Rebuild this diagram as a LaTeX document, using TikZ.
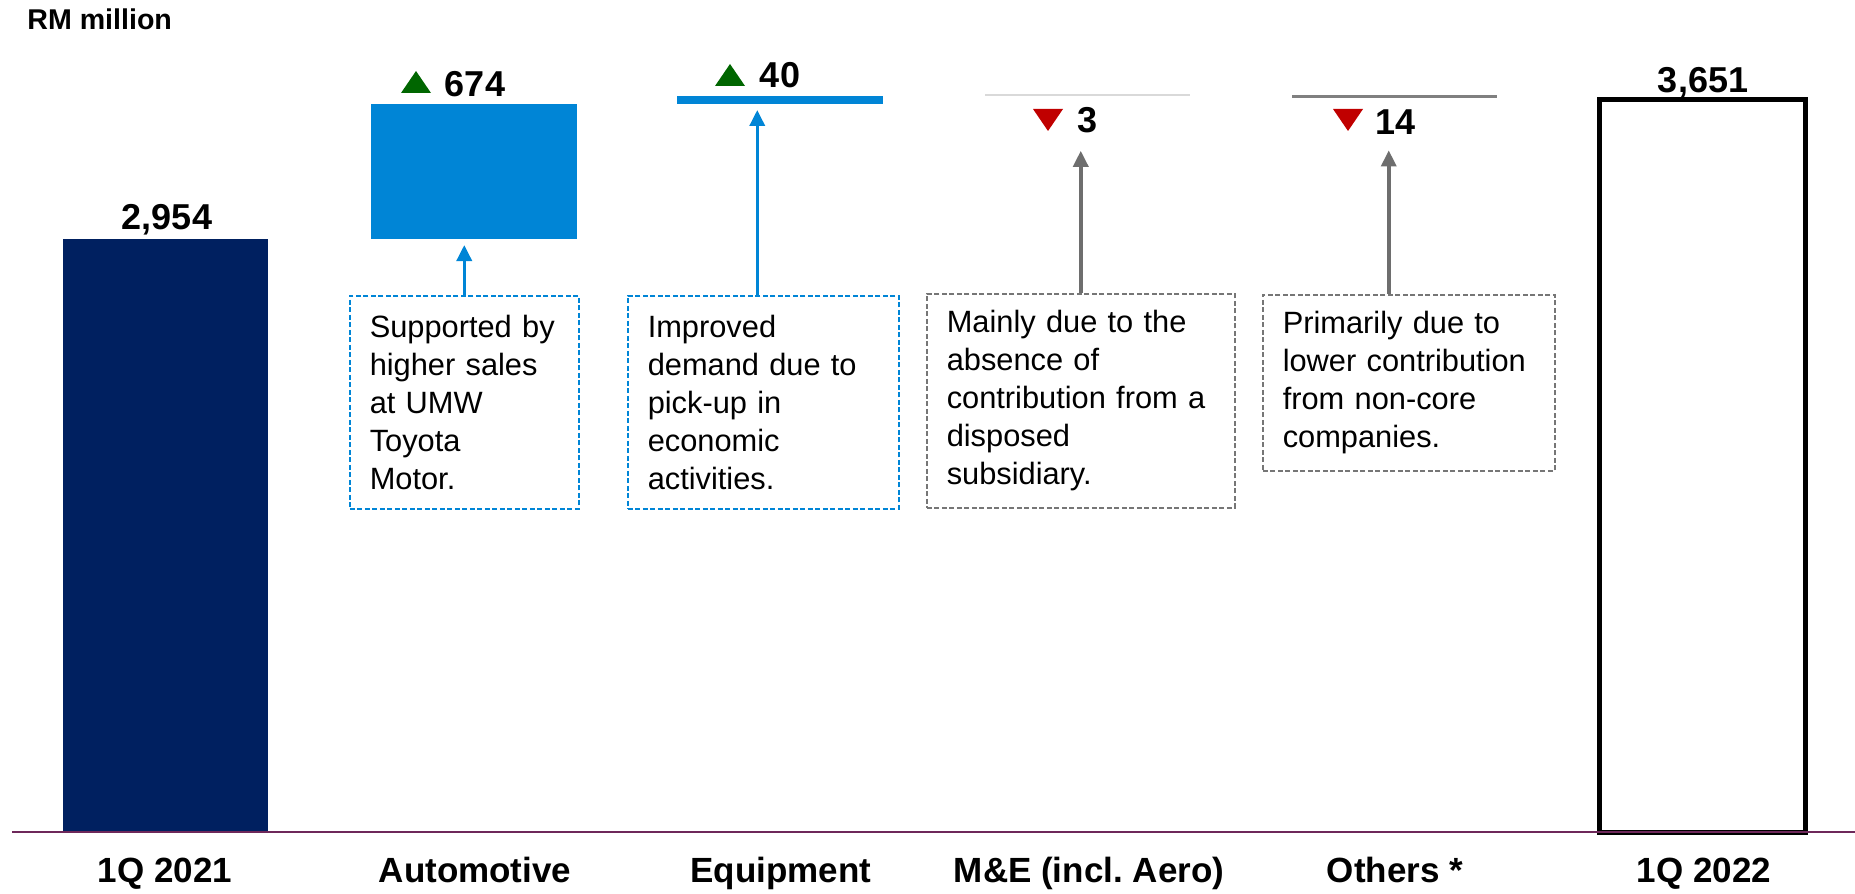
\documentclass[tikz,border=0pt]{standalone}
\usepackage{fontspec}
\setmainfont{Liberation Sans}
\usetikzlibrary{shapes.geometric, arrows.meta, positioning}
\definecolor{navy}{RGB}{0,32,96}
\definecolor{autoblue}{RGB}{0,133,214}
\definecolor{upgreen}{RGB}{0,102,0}
\definecolor{downred}{RGB}{192,0,0}
\definecolor{notegrey}{RGB}{118,118,118}
\definecolor{linkgrey}{RGB}{110,110,110}
\definecolor{megrey}{RGB}{217,217,217}
\definecolor{othgrey}{RGB}{128,128,128}
\definecolor{axisline}{RGB}{110,40,90}
\tikzstyle{bar} = [rectangle, inner sep=0pt, outer sep=0pt]
\tikzstyle{total} = [rectangle, draw=black, line width=2.5pt, fill=white, inner sep=0pt]
\tikzstyle{value} = [inner sep=0pt, anchor=base, font=\fontsize{18}{21}\selectfont\bfseries]
\tikzstyle{category} = [inner sep=0pt, anchor=base, font=\fontsize{17.5}{21}\selectfont\bfseries]
\tikzstyle{note} = [rectangle, anchor=north west, align=left, inner xsep=10pt, inner ysep=0pt, line width=0.75pt, dash pattern=on 2.5pt off 1.25pt, font=\fontsize{15.4}{19}\selectfont]
\tikzstyle{up_note} = [note, draw=autoblue]
\tikzstyle{down_note} = [note, draw=notegrey]
\tikzstyle{up_link} = [line width=1.75pt, autoblue, -{Triangle[length=8pt, width=7.5pt]}]
\tikzstyle{down_link} = [line width=1.75pt, linkgrey, -{Triangle[length=8pt, width=7.5pt]}]

\begin{document}
\begin{tikzpicture}[x=0.5pt, y=-0.5pt]

    % Page border
    \useasboundingbox (0,0) rectangle (1855,893);

    \node (unit_label) [anchor=base west, inner sep=0pt, font=\fontsize{14.3}{17}\selectfont\bfseries] at (27,30) {RM million};

    \node (base_bar) [bar, fill=navy, minimum width=102.5pt, minimum height=296.5pt] at (165.5,535.5) {};
    \node (auto_bar) [bar, fill=autoblue, minimum width=103pt, minimum height=67.5pt] at (474,171.5) {};
    \node (equip_bar) [bar, fill=autoblue, minimum width=103pt, minimum height=4pt] at (780,100) {};
    \node (me_bar) [bar, fill=megrey, minimum width=102.5pt, minimum height=0.75pt] at (1087.5,95) {};
    \node (other_bar) [bar, fill=othgrey, minimum width=102.5pt, minimum height=1.5pt] at (1394.5,97) {};
    \node (final_bar) [total, minimum width=103pt, minimum height=366.75pt] at (1702.5,466) {};

    \draw [axisline, line width=0.75pt] (12,832) -- (1855,832);

    \node (base_value) [value] at (167,229) {2,954};
    \node (auto_value) [value] at (475,97) {674};
    \node (equip_value) [value] at (780,88) {40};
    \node (me_value) [value] at (1087,133) {3};
    \node (other_value) [value] at (1395,135) {14};
    \node (final_value) [value] at (1703,93) {3,651};

    % Up and down markers
    \fill [upgreen] (416,82) ++(-15,11) -- ++(30,0) -- ++(-15,-22) -- cycle;
    \fill [upgreen] (730,75) ++(-15,11) -- ++(30,0) -- ++(-15,-22) -- cycle;
    \fill [downred] (1048,120) ++(-15,-11) -- ++(30,0) -- ++(-15,22) -- cycle;
    \fill [downred] (1348,120) ++(-15,-11) -- ++(30,0) -- ++(-15,22) -- cycle;

    \node (auto_note) [up_note, text width=94.5pt, minimum height=106.5pt] at (349,295) {Supported by\\higher sales\\at UMW\\Toyota\\Motor.};
    \node (equip_note) [up_note, text width=115.5pt, minimum height=106.5pt] at (627,295) {Improved\\demand due to\\pick-up in\\economic\\activities.};
    \node (me_note) [down_note, text width=134pt, minimum height=107pt] at (926,293) {Mainly due to the\\absence of\\contribution from a\\disposed\\subsidiary.};
    \node (other_note) [down_note, text width=126pt, minimum height=88pt] at (1262,294) {Primarily due to\\lower contribution\\from non-core\\companies.};

    \draw [up_link, shorten >=3pt] (auto_note.north) -- (auto_note.north |- auto_bar.south);
    \draw [up_link, shorten >=3pt] ([xshift=-3pt]equip_note.north) -- ([xshift=-3pt]equip_note.north |- equip_bar.south);
    \draw [down_link, shorten >=8.5pt] (me_note.north) -- (me_note.north |- me_value.south);
    \draw [down_link, shorten >=7.5pt] ([xshift=-10pt]other_note.north) -- ([xshift=-10pt]other_note.north |- other_value.south);

    \node (base_label) [category] at (165,882) {1Q 2021};
    \node (auto_label) [category] at (475,882) {Automotive};
    \node (equip_label) [category] at (781,882) {Equipment};
    \node (me_label) [category] at (1089,882) {M\&E (incl.\ Aero)};
    \node (other_label) [category] at (1395,882) {Others *};
    \node (final_label) [category] at (1704,882) {1Q 2022};

\end{tikzpicture}
\end{document}
